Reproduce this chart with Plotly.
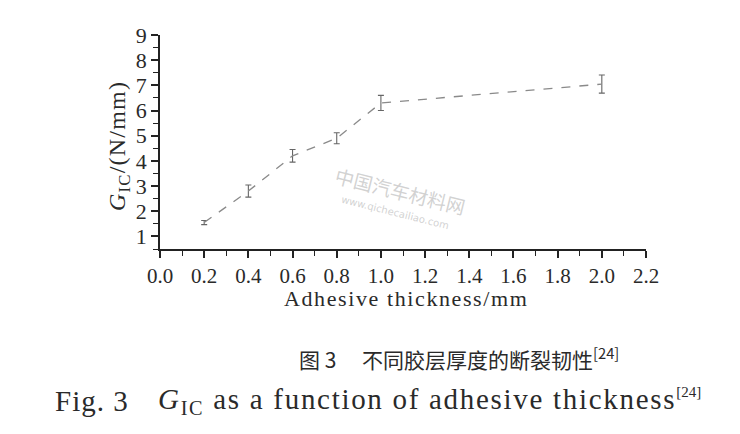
import plotly.graph_objects as go

thickness = [0.2, 0.4, 0.6, 0.8, 1.0, 2.0]
gic = [1.55, 2.8, 4.2, 4.9, 6.3, 7.05]
gic_err = [0.08, 0.24, 0.25, 0.22, 0.3, 0.36]

x_ticks = [0.0, 0.2, 0.4, 0.6, 0.8, 1.0, 1.2, 1.4, 1.6, 1.8, 2.0, 2.2]
x_tick_labels = ["0.0", "0.2", "0.4", "0.6", "0.8", "1.0", "1.2", "1.4", "1.6", "1.8", "2.0", "2.2"]
y_ticks = [1, 2, 3, 4, 5, 6, 7, 8, 9]

SERIF = "Liberation Serif"
CJK = "Noto Sans CJK SC"
TXT = "#2a2a2a"

fig = go.Figure()
fig.add_trace(go.Scatter(
    x=thickness, y=gic, mode="lines",
    line=dict(color="#8a8a8a", width=1.3, dash="dash"),
    error_y=dict(type="data", array=gic_err, visible=True, color="#666666", thickness=1.1, width=3),
    showlegend=False,
))

OFF = 8  # page body margin
W, H = 740, 434
# target plot box in screenshot pixels: x 160..646, y 35..249
L, T = 160 - OFF, 35 - OFF
pw, ph = 486, 214
R = W - L - pw
B = H - T - ph

fig.update_layout(
    width=W, height=H,
    margin=dict(l=L, r=R, t=T, b=B, autoexpand=False),
    paper_bgcolor="white", plot_bgcolor="white",
    font=dict(family=SERIF, color=TXT, size=21),
    xaxis=dict(
        range=[0, 2.2], tickvals=x_ticks, ticktext=x_tick_labels, automargin=False,
        showline=True, linecolor="#222222", linewidth=1.5,
        ticks="outside", ticklen=7, tickwidth=1.5, tickcolor="#222222",
        minor=dict(dtick=0.1, ticks="outside", ticklen=5, tickwidth=1.2, tickcolor="#222222"),
        showgrid=False, zeroline=False,
        tickfont=dict(family=SERIF, size=21, color=TXT),
    ),
    yaxis=dict(
        range=[0.5, 9], tickvals=y_ticks, automargin=False,
        showline=True, linecolor="#222222", linewidth=1.5,
        ticks="outside", ticklen=7, tickwidth=1.5, tickcolor="#222222",
        minor=dict(dtick=0.5, tick0=0.5, ticks="outside", ticklen=5, tickwidth=1.2, tickcolor="#222222"),
        showgrid=False, zeroline=False,
        tickfont=dict(family=SERIF, size=22, color=TXT),
    ),
)

def px(pix):
    return (pix - 160) / pw

def py(pix):
    return (249 - pix) / ph

def note(xp, yp, text, font, angle=0, xanchor="center"):
    fig.add_annotation(x=px(xp), y=py(yp), xref="paper", yref="paper",
                       xanchor=xanchor, yanchor="middle",
                       text=text, showarrow=False, textangle=angle, font=font)

def spaced(s, ls):
    return '<span style="letter-spacing:%.1fpx">%s</span>' % (ls, s)

# axis titles
note(406, 298, spaced("Adhesive thickness/mm", 1.6), dict(family=SERIF, size=22, color=TXT))
note(119, 146, spaced("<i>G</i><sub>IC</sub>/(N/mm)", 1.2), dict(family=SERIF, size=24, color=TXT), angle=-90)

# watermark
WM = "rgba(165,165,165,0.5)"
note(400, 190, "中国汽车材料网", dict(family=CJK, size=19, color=WM), angle=14)
note(395, 212, "www.qichecailiao.com", dict(family="DejaVu Sans", size=10, color=WM), angle=14)

# captions
note(459, 358, "图 3\u3000 不同胶层厚度的断裂韧性<sup>[24]</sup>", dict(family=CJK, size=21, color=TXT))
note(131, 401, spaced("Fig. 3", 1.0), dict(family=SERIF, size=29, color=TXT), xanchor="right")
note(156, 401,
     spaced("<i>G</i><sub>IC</sub> as a function of adhesive thickness", 1.7)
     + '<sup><span style="font-size:15px">[24]</span></sup>',
     dict(family=SERIF, size=29, color=TXT), xanchor="left")

fig.write_html("out.html")
